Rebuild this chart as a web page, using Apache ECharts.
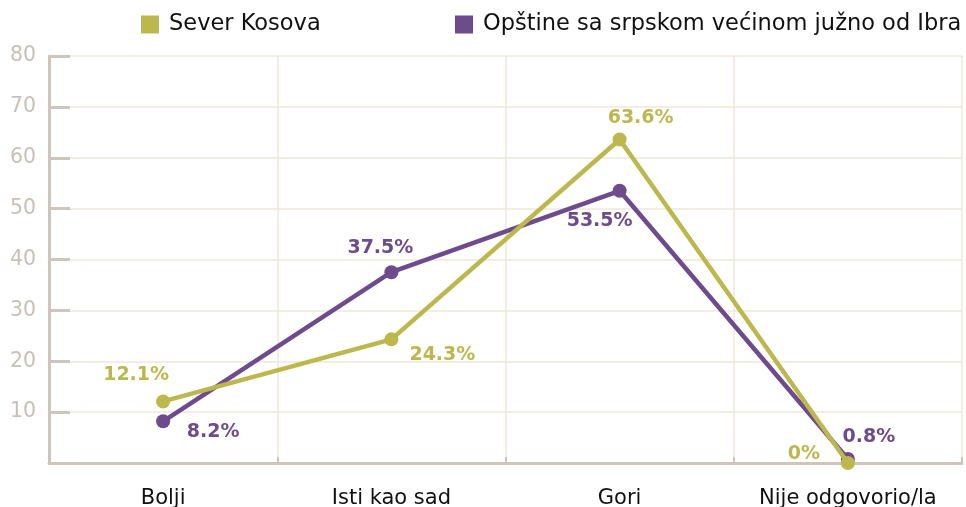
<!DOCTYPE html>
<html><head><meta charset="utf-8">
<script src="https://cdn.jsdelivr.net/npm/echarts@6/dist/echarts.min.js"></script>
<style>html,body{margin:0;padding:0;background:#fff}#c{width:966px;height:507px}</style>
</head><body><div id="c"></div>
<script>
const categories = ['Bolji', 'Isti kao sad', 'Gori', 'Nije odgovorio/la'];
const seriesNames = ['Sever Kosova', 'Opštine sa srpskom većinom južno od Ibra'];
const severKosova = [12.1, 24.3, 63.6, 0];
const juznoOdIbra = [8.2, 37.5, 53.5, 0.8];
const yTicks = [0, 10, 20, 30, 40, 50, 60, 70, 80];

const colors = ['#bdb84d', '#6e4b8c'];
const FONT = 'DejaVu Sans';
const offsetsA = [[-27, -26], [51, 16], [21, -21], [-44, -9]];
const offsetsB = [[50, 11], [-11, -24], [-20, 30], [21, -22]];

function mk(vals, offs, color) {
  return vals.map((v, i) => ({
    value: v,
    label: { show: true, position: 'inside', offset: offs[i], formatter: v + '%',
      color: color, fontWeight: 'bold', fontSize: 19, fontFamily: FONT }
  }));
}

const legendText = { fontSize: 22.5, color: '#111', fontFamily: FONT, padding: [0, 0, 0, 5] };
const chart = echarts.init(document.getElementById('c'));
chart.setOption({
  animation: false,
  color: colors,
  textStyle: { fontFamily: FONT },
  legend: [
    { data: [seriesNames[0]], left: 136, top: 8, itemWidth: 18, itemHeight: 18, icon: 'rect',
      textStyle: legendText },
    { data: [seriesNames[1]], left: 450, top: 8, itemWidth: 18, itemHeight: 18, icon: 'rect',
      textStyle: legendText }
  ],
  grid: { left: 49, right: 4, top: 56, bottom: 44, containLabel: false, outerBoundsMode: 'none' },
  xAxis: {
    type: 'category', data: categories, boundaryGap: true,
    axisLine: { lineStyle: { color: '#cfc6bb', width: 3 } },
    axisTick: { show: true, inside: true, length: 6, interval: 0, lineStyle: { color: '#cfc6bb', width: 2 } },
    splitLine: { show: true, interval: 0, lineStyle: { color: '#efe7da', width: 1.5 } },
    axisLabel: { color: '#111', fontSize: 21, margin: 25, interval: 0, fontFamily: FONT }
  },
  yAxis: {
    type: 'value', min: yTicks[0], max: yTicks[yTicks.length - 1], interval: 10,
    axisLine: { show: true, lineStyle: { color: '#cfc6bb', width: 3 } },
    axisTick: { show: true, inside: true, length: 21, lineStyle: { color: '#cfc6bb', width: 3 } },
    splitLine: { show: true, lineStyle: { color: '#efe7da', width: 1.5 } },
    axisLabel: { color: '#c9c0b7', fontSize: 20.5, margin: 13, fontFamily: FONT,
      formatter: v => (v === 0 ? '' : String(v)) }
  },
  series: [
    { name: seriesNames[0], type: 'line', data: mk(severKosova, offsetsA, colors[0]),
      symbol: 'circle', symbolSize: 14, lineStyle: { width: 4.5 }, z: 3 },
    { name: seriesNames[1], type: 'line', data: mk(juznoOdIbra, offsetsB, colors[1]),
      symbol: 'circle', symbolSize: 14, lineStyle: { width: 4.5 }, z: 2 }
  ]
});
</script></body></html>
